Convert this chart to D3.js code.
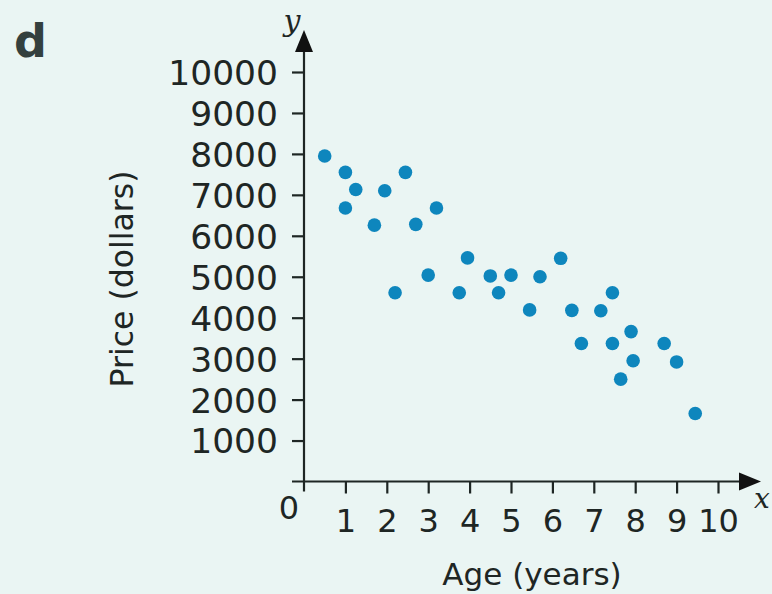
<!DOCTYPE html>
<html>
<head>
<meta charset="utf-8">
<script src="https://cdn.jsdelivr.net/npm/d3@7"></script>
<style>
  html, body { margin: 0; padding: 0; background: #eaf5f3; }
  svg { display: block; }
</style>
</head>
<body>
<svg id="chart" width="772" height="594"></svg>
<script>
const ages   = [0.5, 1, 1.25, 1.95, 2.45, 1, 1.7, 2.7, 3.2, 3.95, 6.2, 3, 4.5, 5, 5.7, 2.2, 3.75, 4.7, 7.45, 5.45, 6.47, 7.17, 6.7, 7.45, 7.9, 8.7, 7.95, 9, 7.65, 9.45];
const prices = [7950, 7550, 7130, 7100, 7550, 6680, 6260, 6280, 6680, 5460, 5450, 5040, 5020, 5040, 5000, 4610, 4610, 4610, 4610, 4190, 4180, 4170, 3370, 3370, 3660, 3370, 2950, 2920, 2500, 1660];
const xTicks = [1, 2, 3, 4, 5, 6, 7, 8, 9, 10];
const yTicks = [1000, 2000, 3000, 4000, 5000, 6000, 7000, 8000, 9000, 10000];

const svg = d3.select("#chart");
const font = "'DejaVu Sans', sans-serif";
const ink = "#1e2624";

svg.append("rect").attr("width", 772).attr("height", 594).attr("fill", "#eaf5f3");

const x = d3.scaleLinear().domain([0, 10]).range([304, 718]);
const y = d3.scaleLinear().domain([0, 10000]).range([481.5, 72]);

// y axis
const yAxis = d3.axisLeft(y).tickValues(yTicks).tickSize(12).tickPadding(14)
  .tickFormat(d3.format("d"));
const gy = svg.append("g").attr("transform", `translate(${x(0)},0)`).call(yAxis);
gy.select(".domain").remove();
gy.selectAll(".tick line").attr("stroke", ink).attr("stroke-width", 2.2);
gy.selectAll(".tick text").attr("font-family", font).attr("font-size", 34.5)
  .attr("fill", ink).attr("dy", "0.36em");

// x axis
const xAxis = d3.axisBottom(x).tickValues(xTicks).tickSize(12).tickPadding(16)
  .tickFormat(d3.format("d"));
const gx = svg.append("g").attr("transform", `translate(0,${y(0)})`).call(xAxis);
gx.select(".domain").remove();
gx.selectAll(".tick line").attr("stroke", ink).attr("stroke-width", 2.2);
gx.selectAll(".tick text").attr("font-family", font).attr("font-size", 32)
  .attr("fill", ink);

// axis lines with arrows
svg.append("line").attr("x1", x(0)).attr("x2", x(0)).attr("y1", y(0) + 10).attr("y2", 50)
  .attr("stroke", ink).attr("stroke-width", 2.2);
svg.append("path").attr("d", `M${x(0)},30 L${x(0) - 9},52 L${x(0) + 9},52 Z`).attr("fill", "#111");
svg.append("line").attr("x1", x(0) - 12).attr("x2", 742).attr("y1", y(0)).attr("y2", y(0))
  .attr("stroke", ink).attr("stroke-width", 2.2);
svg.append("path").attr("d", `M761,${y(0)} L739,${y(0) - 9} L739,${y(0) + 9} Z`).attr("fill", "#111");

// origin label
svg.append("text").attr("x", 289).attr("y", 519).attr("text-anchor", "middle")
  .attr("font-family", font).attr("font-size", 32).attr("fill", ink).text("0");

// axis letter labels
svg.append("text").attr("x", 292).attr("y", 31).attr("text-anchor", "middle")
  .attr("font-family", "'DejaVu Serif', 'Liberation Serif', serif").attr("font-style", "italic")
  .attr("font-size", 30).attr("fill", ink).text("y");
svg.append("text").attr("x", 754).attr("y", 508)
  .attr("font-family", "'DejaVu Serif', 'Liberation Serif', serif").attr("font-style", "italic")
  .attr("font-size", 28).attr("fill", ink).text("x");

// titles
svg.append("text").attr("x", 532).attr("y", 585).attr("text-anchor", "middle")
  .attr("font-family", font).attr("font-size", 31).attr("fill", ink).text("Age (years)");
svg.append("text").attr("transform", "translate(133,279) rotate(-90)").attr("text-anchor", "middle")
  .attr("font-family", font).attr("font-size", 31.5).attr("fill", ink).text("Price (dollars)");

// panel letter
svg.append("text").attr("x", 14).attr("y", 57)
  .attr("font-family", "'DejaVu Sans', sans-serif").attr("font-weight", "bold")
  .attr("font-size", 46).attr("fill", "#34403e").text("d");

// points
svg.append("g").selectAll("circle").data(ages.map((a, i) => [a, prices[i]]))
  .join("circle")
  .attr("cx", d => x(d[0])).attr("cy", d => y(d[1])).attr("r", 6.8)
  .attr("fill", "#0e86bd");
</script>
</body>
</html>
